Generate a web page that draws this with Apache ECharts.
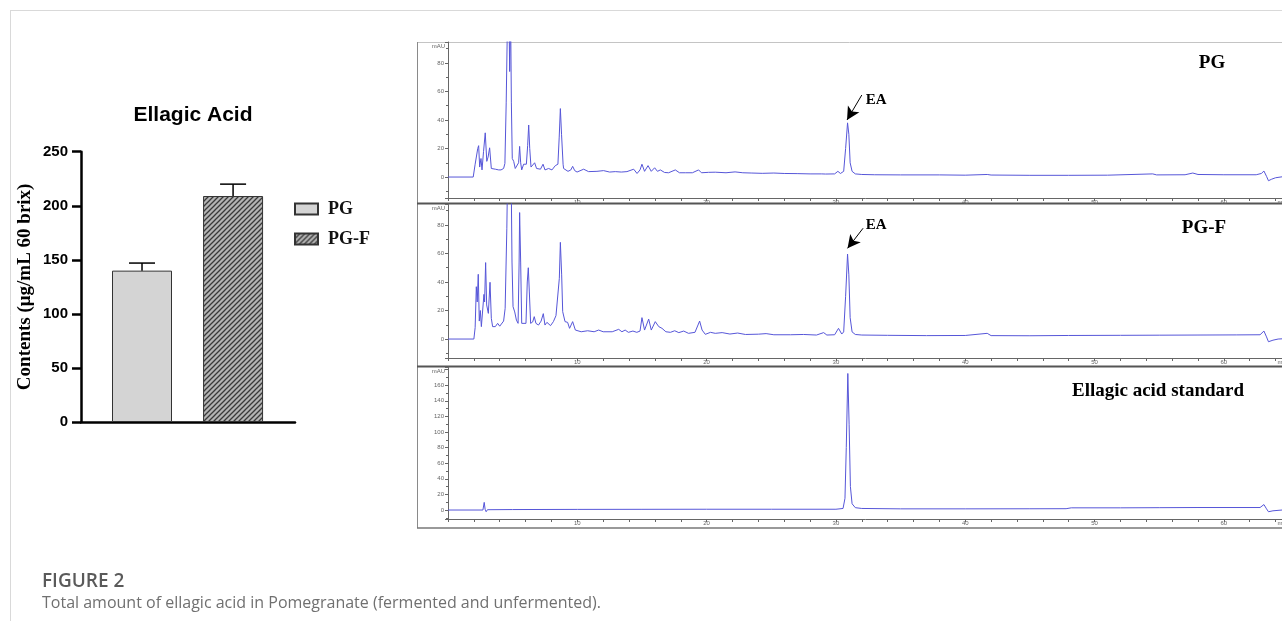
<!DOCTYPE html>
<html>
<head>
<meta charset="utf-8">
<title>Ellagic acid</title>
<script src="https://cdn.jsdelivr.net/npm/echarts@6/dist/echarts.min.js"></script>
<style>
  html, body { margin: 0; padding: 0; background: #fff; }
  #chart { width: 1282px; height: 621px; }
</style>
</head>
<body>
<div id="chart"></div>
<script>
// bar chart: ellagic acid content
var groups = ["PG", "PG-F"];
var contents = [140, 209];
var contentErr = [7, 11];

// HPLC traces: [min, mAU]
var pgTrace = [
  [0, 0], [1.95, 0], [2.1, 9], [2.3, 20], [2.37, 22], [2.45, 7], [2.55, 13], [2.63, 5],
  [2.75, 18], [2.88, 31], [3.0, 11], [3.1, 14], [3.22, 20.5], [3.35, 6], [3.5, 5],
  [3.66, 5.5], [3.8, 4.5], [3.92, 5], [4.1, 5], [4.3, 6], [4.4, 9.5], [4.5, 52],
  [4.6, 110], [4.7, 125], [4.77, 74], [4.84, 118], [4.9, 52], [4.97, 13], [5.08, 11],
  [5.2, 6], [5.33, 4.7], [5.46, 10], [5.54, 21.5], [5.62, 10], [5.7, 5], [5.85, 9],
  [6.06, 9], [6.16, 22], [6.24, 36.5], [6.32, 20], [6.42, 7], [6.55, 7.5], [6.7, 10],
  [6.85, 6], [6.96, 5], [7.15, 5.5], [7.35, 9], [7.5, 5], [7.78, 6], [8.04, 5], [8.3, 8],
  [8.5, 9], [8.6, 28], [8.69, 48], [8.78, 30], [8.9, 9], [8.94, 6], [9.28, 4], [9.5, 5],
  [9.64, 7.5], [9.8, 4.5], [9.98, 3.5], [10.49, 5.5], [10.87, 3.8], [11.52, 4],
  [12.03, 4.5], [12.5, 3.5], [12.94, 3.8], [13.4, 3.5], [13.84, 3.8], [14.36, 5.5],
  [14.62, 2.5], [14.85, 5], [15.0, 9], [15.2, 4], [15.47, 8], [15.72, 4], [15.98, 6.5],
  [16.2, 4], [16.42, 5], [16.75, 3.2], [17.06, 3], [17.58, 5], [17.9, 3], [18.35, 3],
  [18.9, 3], [19.38, 5], [19.6, 3], [20.15, 3.3], [20.67, 3.4], [21.5, 3.0], [22.2, 3.6],
  [22.8, 3.0], [23.5, 2.8], [24.3, 2.6], [25.2, 2.8], [26, 2.5], [27, 2.4], [28, 2.2],
  [28.9, 2.2], [29.05, 3.5], [29.2, 2.1], [29.9, 2.2], [30.15, 4], [30.35, 2.5],
  [30.6, 4], [30.75, 20], [30.9, 38], [31.0, 30], [31.1, 10], [31.25, 4], [31.5, 2.2],
  [32, 1.8], [33, 1.6], [35, 1.5], [38, 1.5], [40, 1.3], [41.7, 1.8], [42, 1.4],
  [45, 1.2], [48, 1.2], [51, 1.3], [54.5, 2.2], [54.8, 1.5], [57, 1.6], [57.6, 2.8],
  [58, 1.8], [60, 1.6], [62.5, 1.6], [62.9, 2.5], [63.1, 4.2], [63.3, 0.5], [63.45, -2.6],
  [63.7, -1.5], [64, -0.5], [64.6, 0.3], [65, 0.4]
];

var pgfTrace = [
  [0, 0], [2.0, 0], [2.1, 8], [2.19, 36.7], [2.26, 26], [2.34, 45.4], [2.42, 12.6],
  [2.5, 20], [2.58, 8.7], [2.68, 9.4], [2.78, 31.3], [2.83, 26], [2.91, 53.6],
  [2.99, 23.9], [3.07, 25], [3.12, 18], [3.25, 39.8], [3.35, 14.5], [3.45, 8.7],
  [3.66, 8.7], [3.84, 11], [4.0, 9], [4.3, 12.6], [4.42, 21.5], [4.55, 77.7], [4.65, 140],
  [4.8, 150], [4.9, 100], [4.95, 54], [5.03, 22.7], [5.16, 19], [5.29, 13.3], [5.42, 11],
  [5.5, 54], [5.54, 88.7], [5.62, 54], [5.7, 11], [5.85, 9.8], [6.03, 11], [6.13, 40],
  [6.21, 50], [6.29, 33], [6.39, 11], [6.55, 12], [6.67, 15.7], [6.8, 11], [7.0, 9.8],
  [7.2, 12.6], [7.37, 17.8], [7.5, 9.8], [7.65, 11.7], [7.78, 12.6], [7.93, 9.4],
  [8.15, 12.2], [8.35, 16.4], [8.5, 17.3], [8.61, 42.6], [8.69, 67.8], [8.79, 45],
  [8.87, 19.2], [9.05, 12.2], [9.25, 11.7], [9.4, 7.5], [9.64, 12.2], [9.85, 6.3],
  [10.3, 5.1], [10.8, 5.8], [11.3, 5.1], [11.65, 6.3], [12.0, 5.1], [12.7, 5.1],
  [13.2, 6.8], [13.45, 5.1], [13.7, 6.3], [13.95, 4.7], [14.3, 5.6], [14.6, 4.7],
  [14.85, 5.6], [15.0, 15], [15.2, 6.3], [15.52, 14], [15.72, 6.3], [16.03, 12.2],
  [16.3, 8.7], [16.55, 7.5], [16.85, 5.1], [17.2, 4.7], [17.53, 5.8], [17.85, 4.5],
  [18.23, 5.6], [18.6, 4], [19.1, 4.7], [19.46, 12.6], [19.65, 6.3], [19.9, 3.3],
  [20.3, 4.7], [20.67, 4], [21.2, 4.5], [21.8, 3.5], [22.4, 4.2], [23, 3.2], [24, 3.4],
  [24.6, 3.8], [25.2, 3], [26.5, 3], [27.5, 3.2], [28.5, 2.8], [29.05, 4.5], [29.3, 2.8],
  [29.9, 3], [30.2, 7.5], [30.45, 3.5], [30.6, 5], [30.75, 30], [30.9, 59.6], [31.0, 45],
  [31.1, 15], [31.25, 5], [31.5, 3.2], [32, 2.8], [34, 2.6], [37, 2.4], [40, 2.5],
  [41.7, 4], [42, 2.4], [45, 2.3], [48, 2.5], [52, 2.6], [55, 2.7], [58, 2.8], [61, 2.9],
  [62.8, 3], [63.1, 5.6], [63.3, 1.5], [63.45, -1.9], [63.8, -0.8], [64.2, 0], [65, 0.4]
];

var stdTrace = [
  [0, 0], [2.7, 0], [2.8, 9.8], [2.87, 1], [2.95, -2.2], [3.05, 0.4], [5, 0.6], [10, 0.8],
  [15, 0.9], [20, 1], [25, 1], [30, 1], [30.55, 2], [30.7, 15], [30.8, 80], [30.92, 175],
  [31.02, 110], [31.12, 30], [31.25, 8], [31.5, 3], [32, 2], [35, 1.5], [40, 1.5],
  [45, 1.6], [47.8, 1.7], [48.2, 2.8], [52, 2.8], [55, 3], [58, 3.2], [62.8, 3.2],
  [63.1, 7], [63.3, 1.5], [63.45, -2.2], [63.8, -1], [64.5, 0], [65, 0.3]
];

// y ranges of the three chromatogram panels (mAU) and their top labelled tick
var panelRanges = [[-14.7, 94.7], [-13.3, 94.7], [-11.5, 183.3]];
var panelTopLabel = [80, 80, 160];
var panelNames = ["PG", "PG-F", "Ellagic acid standard"];
// EA arrows: [start, tip] and label anchor, in [min, mAU]
var eaArrows = [
  [[32.0, 57.5], [30.86, 40]],
  [[32.1, 77.7], [30.9, 63.6]]
];
var eaLabels = [[32.3, 54], [32.3, 80]];

// hatch for PG-F bar
var hatch = document.createElement("canvas");
hatch.width = 5;
hatch.height = 5;
var hctx = hatch.getContext("2d");
hctx.fillStyle = "#b4b4b4";
hctx.fillRect(0, 0, 5, 5);
hctx.strokeStyle = "#3a3a3a";
hctx.lineWidth = 1.3;
hctx.beginPath();
hctx.moveTo(-1, 6); hctx.lineTo(6, -1);
hctx.moveTo(-1, 1); hctx.lineTo(1, -1);
hctx.moveTo(4, 6); hctx.lineTo(6, 4);
hctx.stroke();

var chart = echarts.init(document.getElementById("chart"));

var serif = "'Liberation Serif', 'Times New Roman', serif";
var sans = "'Liberation Sans', Arial, sans-serif";
var traceColor = "#5656d8";
var axisGray = "#666";

var grids = [{ left: 81, top: 151.7, width: 214, height: 270.3, outerBoundsMode: "none" }];
var panelTops = [42, 204, 367];
var panelHeights = [156, 154, 152];
for (var i = 0; i < 3; i++) {
  grids.push({ left: 448, top: panelTops[i], width: 840.5, height: panelHeights[i], outerBoundsMode: "none" });
}

var xAxes = [{
  gridIndex: 0, type: "value", min: 0.33, max: 2.68,
  axisLine: { show: true, onZero: false, lineStyle: { color: "#000", width: 2.5 } },
  axisTick: { show: false }, axisLabel: { show: false }, splitLine: { show: false }
}];
var yAxes = [{
  gridIndex: 0, type: "value", min: 0, max: 250, interval: 50,
  name: "Contents (μg/mL 60 brix)", nameLocation: "middle", nameGap: 46, nameRotate: 90,
  nameMoveOverlap: false,
  nameTextStyle: { fontFamily: serif, fontWeight: "bold", fontSize: 19, color: "#000" },
  axisLine: { show: true, lineStyle: { color: "#000", width: 2.5 } },
  axisTick: { show: true, length: 9, lineStyle: { color: "#000", width: 2.5 } },
  axisLabel: { fontFamily: sans, fontWeight: "bold", fontSize: 15, color: "#000", margin: 13 },
  splitLine: { show: false }
}];

function makeYLabel(topLabel) {
  return function (v) {
    return Math.abs(v % 20) < 1e-6 && v <= topLabel ? String(Math.round(v)) : "";
  };
}

for (var p = 0; p < 3; p++) {
  xAxes.push({
    gridIndex: p + 1, type: "value", min: 0, max: 65, interval: 2,
    name: "min", nameLocation: "end", nameGap: -11, nameMoveOverlap: false,
    nameTextStyle: { fontSize: 6, color: axisGray, verticalAlign: "top", padding: [1, 0, 0, 0] },
    axisLine: { show: true, onZero: false, lineStyle: { color: axisGray, width: 1 } },
    axisTick: { show: true, length: 3, lineStyle: { color: axisGray } },
    axisLabel: {
      fontSize: 6, color: axisGray, margin: 1, fontFamily: sans,
      formatter: function (v) { return v > 0 && v % 10 === 0 ? String(v) : ""; }
    },
    splitLine: { show: false }
  });
  yAxes.push({
    gridIndex: p + 1, type: "value", min: panelRanges[p][0], max: panelRanges[p][1],
    splitNumber: p === 2 ? 10 : 5,
    name: "mAU", nameLocation: "end", nameGap: -7, nameMoveOverlap: false,
    nameTextStyle: { fontSize: 6, color: axisGray, align: "right", padding: [0, 3, 0, 0] },
    axisLine: { show: true, lineStyle: { color: axisGray, width: 1 } },
    axisTick: { show: true, length: 3, lineStyle: { color: axisGray } },
    minorTick: { show: true, splitNumber: 2, length: 2, lineStyle: { color: axisGray } },
    axisLabel: {
      fontSize: 6, color: axisGray, margin: 4, fontFamily: sans,
      formatter: makeYLabel(panelTopLabel[p])
    },
    splitLine: { show: false }
  });
}

var series = [
  {
    name: groups[0], type: "bar", xAxisIndex: 0, yAxisIndex: 0, barWidth: 60, barGap: "-100%",
    itemStyle: { color: "#d4d4d4", borderColor: "#333", borderWidth: 1 },
    data: [[1, contents[0]]]
  },
  {
    name: groups[1], type: "bar", xAxisIndex: 0, yAxisIndex: 0, barWidth: 60, barGap: "-100%",
    itemStyle: { color: { image: hatch, repeat: "repeat" }, borderColor: "#333", borderWidth: 1 },
    data: [[2, contents[1]]]
  },
  {
    type: "custom", xAxisIndex: 0, yAxisIndex: 0, z: 5,
    data: groups.map(function (g, i) { return [i + 1, contents[i], contentErr[i]]; }),
    renderItem: function (params, api) {
      var x = api.value(0), v = api.value(1), e = api.value(2);
      var base = api.coord([x, v]);
      var top = api.coord([x, v + e]);
      var st = { stroke: "#000", lineWidth: 1.5 };
      return {
        type: "group", children: [
          { type: "line", shape: { x1: base[0], y1: base[1], x2: top[0], y2: top[1] }, style: st },
          { type: "line", shape: { x1: top[0] - 13, y1: top[1], x2: top[0] + 13, y2: top[1] }, style: st }
        ]
      };
    }
  }
];

var traces = [pgTrace, pgfTrace, stdTrace];
for (var k = 0; k < 3; k++) {
  var s = {
    type: "line", xAxisIndex: k + 1, yAxisIndex: k + 1, data: traces[k],
    showSymbol: false, symbol: "none", clip: true,
    lineStyle: { color: traceColor, width: 1 }
  };
  if (k < 2) {
    s.markLine = {
      silent: true, animation: false,
      symbol: ["none", "arrow"], symbolSize: [10, 13],
      lineStyle: { color: "#000", width: 1, type: "solid" },
      label: { show: false },
      data: [[{ coord: eaArrows[k][0] }, { coord: eaArrows[k][1] }]]
    };
    s.markPoint = {
      silent: true, animation: false, symbol: "circle", symbolSize: 0,
      label: {
        show: true, position: "right", distance: 0, formatter: "EA",
        fontFamily: serif, fontWeight: "bold", fontSize: 15, color: "#000"
      },
      data: [{ coord: eaLabels[k] }]
    };
  }
  series.push(s);
}

var graphics = [
  { type: "line", shape: { x1: 10, y1: 10.5, x2: 1282, y2: 10.5 }, style: { stroke: "#d9d9d9", lineWidth: 1 } },
  { type: "line", shape: { x1: 10.5, y1: 10, x2: 10.5, y2: 621 }, style: { stroke: "#d9d9d9", lineWidth: 1 } },
  { type: "line", shape: { x1: 417, y1: 42.5, x2: 1282, y2: 42.5 }, style: { stroke: "#c4c4c4", lineWidth: 1 } },
  { type: "line", shape: { x1: 417.5, y1: 42, x2: 417.5, y2: 528 }, style: { stroke: "#8a8a8a", lineWidth: 1 } },
  { type: "line", shape: { x1: 417, y1: 528, x2: 1282, y2: 528 }, style: { stroke: "#777", lineWidth: 1.5 } },
  { type: "line", shape: { x1: 417, y1: 203.5, x2: 1282, y2: 203.5 }, style: { stroke: "#555", lineWidth: 2 } },
  { type: "line", shape: { x1: 417, y1: 366.5, x2: 1282, y2: 366.5 }, style: { stroke: "#555", lineWidth: 2 } },
  { type: "text", x: 1212, y: 63, style: { text: panelNames[0], fontFamily: serif, fontWeight: "bold", fontSize: 19, fill: "#000", textAlign: "center", textVerticalAlign: "middle" } },
  { type: "text", x: 1204, y: 228, style: { text: panelNames[1], fontFamily: serif, fontWeight: "bold", fontSize: 19, fill: "#000", textAlign: "center", textVerticalAlign: "middle" } },
  { type: "text", x: 1158, y: 391, style: { text: panelNames[2], fontFamily: serif, fontWeight: "bold", fontSize: 19, fill: "#000", textAlign: "center", textVerticalAlign: "middle" } },
  { type: "text", x: 42, y: 582, style: { text: "FIGURE 2", fontFamily: "'Open Sans', sans-serif", fontWeight: 600, fontSize: 19, fill: "#5a5a5a", textVerticalAlign: "middle" } },
  { type: "text", x: 42, y: 603, style: { text: "Total amount of ellagic acid in Pomegranate (fermented and unfermented).", fontFamily: "'Open Sans', sans-serif", fontSize: 16, fill: "#707070", textVerticalAlign: "middle" } }
];

chart.setOption({
  animation: false,
  backgroundColor: "#fff",
  title: {
    text: "Ellagic Acid", left: 188, top: 100, textAlign: "center",
    textStyle: { fontFamily: sans, fontWeight: "bold", fontSize: 21, color: "#000" }
  },
  legend: {
    data: groups, orient: "vertical", left: 289, top: 195, icon: "rect",
    itemWidth: 23, itemHeight: 11, itemGap: 12, selectedMode: false,
    textStyle: { fontFamily: serif, fontWeight: "bold", fontSize: 18, color: "#111", padding: [0, 0, 0, 5] }
  },
  grid: grids,
  xAxis: xAxes,
  yAxis: yAxes,
  series: series,
  graphic: graphics
});
</script>
</body>
</html>
